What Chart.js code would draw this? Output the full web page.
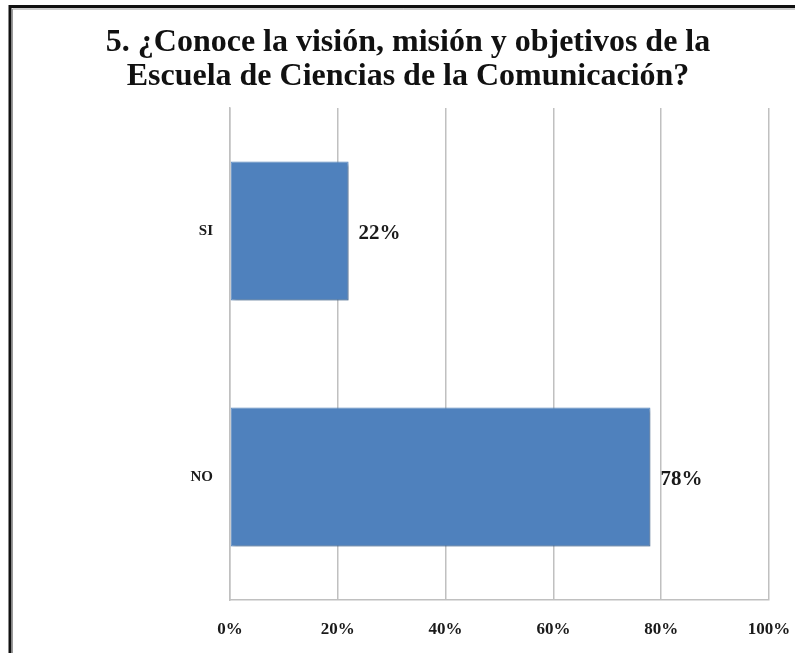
<!DOCTYPE html>
<html>
<head>
<meta charset="utf-8">
<script src="https://cdn.jsdelivr.net/npm/chart.js@4.4.1/dist/chart.umd.min.js"></script>
<style>
  html, body { margin: 0; padding: 0; background: #ffffff; }
  #wrap { position: relative; width: 795px; height: 653px; }
</style>
</head>
<body>
<div id="wrap"><canvas id="chart" width="795" height="653"></canvas></div>
<script>
// Survey answers and their share of respondents (%)
const categories = ['SI', 'NO'];
const percentages = [22, 78];
const xTicks = [0, 20, 40, 60, 80, 100];
const titleLines = [
  '5. ¿Conoce la visión, misión y objetivos de la',
  'Escuela de Ciencias de la Comunicación?'
];

const serif = '"Liberation Serif", "DejaVu Serif", serif';

// Black frame along the top and left edges
const framePlugin = {
  id: 'frame',
  beforeDraw(chart) {
    const ctx = chart.ctx;
    ctx.save();
    ctx.strokeStyle = '#111111';
    ctx.lineWidth = 3;
    ctx.beginPath();
    ctx.moveTo(10, 653);
    ctx.lineTo(10, 6.5);
    ctx.lineTo(795, 6.5);
    ctx.stroke();
    ctx.strokeStyle = '#9a9a9a';
    ctx.lineWidth = 1;
    ctx.beginPath();
    ctx.moveTo(12.5, 653);
    ctx.lineTo(12.5, 9);
    ctx.lineTo(795, 9);
    ctx.stroke();
    ctx.restore();
  }
};

// Soft drop shadow under the bars
const shadowPlugin = {
  id: 'barShadow',
  beforeDatasetsDraw(chart) {
    const ctx = chart.ctx;
    ctx.save();
    ctx.shadowColor = 'rgba(0,0,0,0.35)';
    ctx.shadowOffsetX = 2;
    ctx.shadowOffsetY = 2;
    ctx.shadowBlur = 3;
  },
  afterDatasetsDraw(chart) {
    chart.ctx.restore();
  }
};

// Percentage labels at the end of each bar
const valueLabelPlugin = {
  id: 'valueLabels',
  afterDatasetsDraw(chart) {
    const ctx = chart.ctx;
    const meta = chart.getDatasetMeta(0);
    ctx.save();
    ctx.font = 'bold 21px ' + serif;
    ctx.fillStyle = '#1a1a1a';
    ctx.textAlign = 'left';
    ctx.textBaseline = 'middle';
    meta.data.forEach((bar, i) => {
      const v = chart.data.datasets[0].data[i];
      ctx.fillText(v + '%', bar.x + 10, bar.y + 3);
    });
    ctx.restore();
  }
};

new Chart(document.getElementById('chart'), {
  type: 'bar',
  data: {
    labels: categories,
    datasets: [{
      data: percentages,
      backgroundColor: '#4F81BD',
      borderColor: '#5B8BC4',
      borderWidth: 1,
      borderSkipped: false,
      categoryPercentage: 1,
      barPercentage: 0.565
    }]
  },
  options: {
    indexAxis: 'y',
    responsive: false,
    animation: false,
    devicePixelRatio: 1,
    layout: { padding: { left: 47, right: 26, top: 0, bottom: 0 } },
    plugins: {
      legend: { display: false },
      tooltip: { enabled: false },
      title: {
        display: true,
        text: titleLines,
        color: '#111111',
        font: { family: serif, size: 32, weight: 'bold', lineHeight: 1.0625 },
        padding: { top: 26, bottom: 14 }
      }
    },
    scales: {
      x: {
        min: 0,
        max: 100,
        afterBuildTicks(scale) {
          scale.ticks = xTicks.map(v => ({ value: v }));
        },
        afterFit(scale) {
          scale.height = 53;
          scale.paddingLeft = 0;
          scale.paddingRight = 0;
        },
        grid: { display: true, color: '#c0c0c0', lineWidth: 1.5, drawTicks: false },
        border: { display: true, color: '#c0c0c0', width: 1.5 },
        ticks: {
          padding: 19,
          color: '#1a1a1a',
          font: { family: serif, size: 17, weight: 'bold' },
          callback: v => v + '%'
        }
      },
      y: {
        afterFit(scale) { scale.width = 183; },
        grid: { display: false, drawTicks: false },
        border: { display: true, color: '#c0c0c0', width: 1.5 },
        ticks: {
          padding: 17,
          color: '#1a1a1a',
          font: { family: serif, size: 15, weight: 'bold' }
        }
      }
    }
  },
  plugins: [framePlugin, shadowPlugin, valueLabelPlugin]
});
</script>
</body>
</html>
